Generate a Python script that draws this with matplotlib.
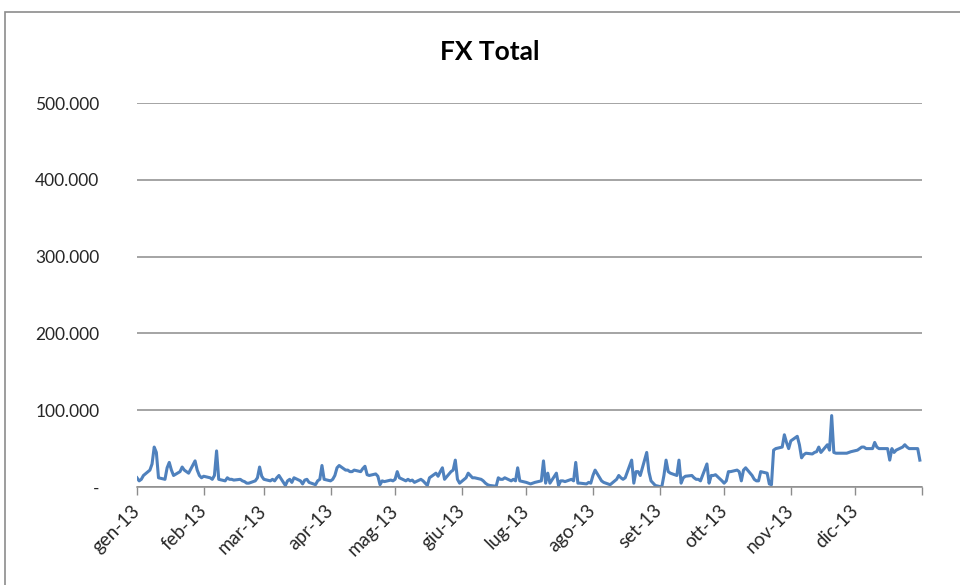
import matplotlib
matplotlib.use("Agg")
import matplotlib.pyplot as plt
import pandas as pd
import numpy as np
from matplotlib.patches import Rectangle

# ---- data (thousands), one value per business day ----
jan = [12, 8, 10, 15, 22, 30, 52, 45, 12, 10, 25, 32, 22, 15, 20, 26, 22, 20, 18, 34, 22, 15, 12]
feb = [14, 12, 10, 15, 47, 10, 8, 12, 10, 10, 9, 10, 8, 7, 5, 5, 8, 12, 26, 14]
mar = [10, 8, 10, 8, 12, 15, 2, 8, 10, 6, 12, 8, 4, 9, 10, 6, 3, 8, 10, 28, 10]
apr = [8, 10, 15, 25, 28, 22, 22, 20, 20, 22, 20, 24, 27, 16, 15, 17, 14, 3, 8, 7, 9, 8]
may = [10, 20, 12, 8, 10, 8, 9, 6, 10, 8, 5, 2, 12, 18, 14, 20, 25, 10, 20, 22, 35, 10, 5]
jun = [12, 18, 15, 12, 12, 10, 8, 5, 3, 2, 1, 12, 10, 10, 12, 8, 10, 8, 25, 8]
jul = [6, 5, 4, 5, 6, 8, 34, 5, 18, 5, 18, 2, 8, 8, 7, 10, 8, 32, 5, 5, 4, 6, 5]
aug = [15, 22, 8, 6, 5, 4, 3, 10, 15, 12, 10, 12, 35, 5, 20, 20, 15, 45, 20, 8, 5, 2]
sep = [0, 15, 35, 20, 18, 15, 35, 5, 12, 14, 15, 12, 10, 10, 8, 30, 5, 15, 15, 16, 8]
oct_ = [5, 8, 20, 20, 22, 20, 8, 22, 25, 15, 10, 8, 8, 20, 18, 4, 3, 48, 50, 52, 68, 58, 50]
nov = [60, 66, 55, 38, 42, 44, 43, 45, 46, 52, 45, 55, 48, 93, 45, 44, 44, 44, 44, 45, 46]
dec = [48, 50, 52, 52, 50, 50, 58, 52, 50, 50, 50, 35, 50, 45, 48, 52, 55, 52, 50, 50, 50, 35]

month_labels = ["gen-13", "feb-13", "mar-13", "apr-13", "mag-13", "giu-13",
                "lug-13", "ago-13", "set-13", "ott-13", "nov-13", "dic-13", ""]
y_ticks = [0, 100000, 200000, 300000, 400000, 500000]
y_labels = ["-", "100.000", "200.000", "300.000", "400.000", "500.000"]
title = "FX Total"

values = np.array(jan + feb + mar + apr + may + jun + jul + aug + sep + oct_ + nov + dec) * 1000.0
dates = pd.bdate_range("2013-01-01", "2013-12-31")
n = min(len(dates), len(values))
dates = dates[:n]
values = values[:n]

plt.rcParams['font.family'] = ['Lato', 'DejaVu Sans']

fig = plt.figure(figsize=(9.6, 5.85), dpi=100)
fig.patch.set_facecolor("white")
# chart area border (Excel style)
fig.patches.append(Rectangle((5 / 960, -0.1), 1.2, 1 - 12 / 585 + 0.1,
                             transform=fig.transFigure, fill=False,
                             edgecolor="#8c8c8c", linewidth=1.2))

ax = fig.add_axes([137 / 960, 1 - 487 / 585, (922 - 137) / 960, (487 - 103) / 585])
ax.plot(dates, values, color="#4F81BD", linewidth=2.2, solid_joinstyle="round")

ax.set_ylim(0, 500000)
ax.set_yticks(y_ticks)
ax.set_yticklabels(y_labels, fontsize=12.5, color="#262626")
ax.tick_params(axis="y", length=0, pad=27)
ax.yaxis.grid(True, color="#8c8c8c", linewidth=1.1)
ax.set_axisbelow(True)

xticks = pd.date_range("2013-01-01", "2014-01-01", freq="MS")
ax.set_xlim(pd.Timestamp("2013-01-01"), pd.Timestamp("2014-01-01"))
ax.set_xticks(xticks)
ax.set_xticklabels(month_labels, rotation=45, ha="right", va="center",
                   rotation_mode="anchor", fontsize=13.5, color="#262626")
ax.tick_params(axis="x", direction="out", length=6, width=1, color="#8c8c8c", pad=9)

for s in ["top", "right", "left"]:
    ax.spines[s].set_visible(False)
ax.spines["bottom"].set_color("#8c8c8c")
ax.spines["bottom"].set_linewidth(1.1)

fig.text(490 / 960, 1 - 52 / 585, title, ha="center", va="center",
         fontsize=19, fontweight="bold", color="black")

fig.savefig("out.png", dpi=100)
